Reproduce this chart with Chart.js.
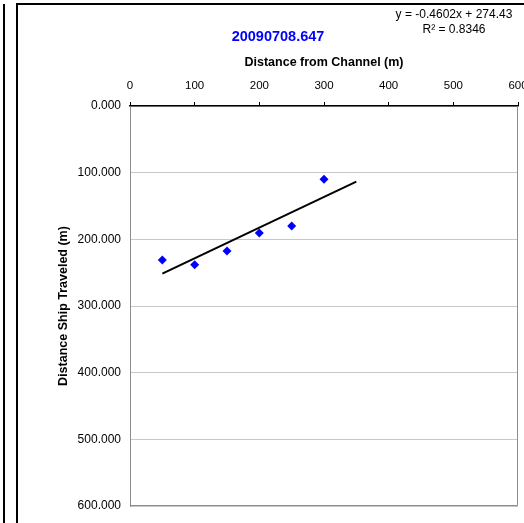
<!DOCTYPE html>
<html>
<head>
<meta charset="utf-8">
<script src="https://cdn.jsdelivr.net/npm/chart.js@4.4.0/dist/chart.umd.min.js"></script>
<style>
html, body { margin:0; padding:0; background:#fff; }
#wrap { position:relative; width:524px; height:523px; overflow:hidden; }
#c { position:absolute; left:0; top:0; }
.edge { position:absolute; background:#000; }
</style>
</head>
<body>
<div id="wrap">
  <canvas id="c" width="524" height="523"></canvas>
  <div class="edge" style="left:3px;top:4px;width:2px;height:530px"></div>
  <div class="edge" style="left:16px;top:3px;width:2px;height:530px"></div>
  <div class="edge" style="left:16px;top:3px;width:520px;height:2px"></div>
</div>
<script>
const chartTitle = '20090708.647';
const xTitle = 'Distance from Channel (m)';
const yTitle = 'Distance Ship Traveled (m)';
const eqLines = ['y = -0.4602x + 274.43', 'R\u00b2 = 0.8346'];

// measured points
const distFromChannel = [50, 100, 150, 200, 250, 300];
const distTraveled = [231, 238, 217.5, 190.5, 180, 110];

// trendline end points (from the equation shown)
const trendX = [50, 350];
const trendY = [251.4, 113.4];

const FONT = "'Liberation Sans', Arial, sans-serif";

const extras = {
  id: 'extras',
  beforeDatasetsDraw(chart) {
    const { ctx, chartArea: a } = chart;
    ctx.save();
    ctx.strokeStyle = '#8c8c8c';
    ctx.lineWidth = 1;
    ctx.beginPath();
    ctx.moveTo(a.right - 0.5, a.top);
    ctx.lineTo(a.right - 0.5, a.bottom - 0.5);
    ctx.lineTo(a.left, a.bottom - 0.5);
    ctx.stroke();
    ctx.restore();
  },
  afterDraw(chart) {
    const ctx = chart.ctx;
    ctx.save();
    ctx.textAlign = 'center';
    ctx.textBaseline = 'middle';
    ctx.fillStyle = '#0000ff';
    ctx.font = 'bold 14.5px ' + FONT;
    ctx.fillText(chartTitle, 278, 37);
    ctx.fillStyle = '#000';
    ctx.font = '12px ' + FONT;
    ctx.fillText(eqLines[0], 454, 15);
    ctx.fillText(eqLines[1], 454, 30);
    ctx.restore();
  }
};

new Chart(document.getElementById('c'), {
  type: 'scatter',
  data: {
    datasets: [
      {
        label: 'Points',
        data: distFromChannel.map((x, i) => ({ x: x, y: distTraveled[i] })),
        pointStyle: 'rectRot',
        pointRadius: 4.5,
        backgroundColor: '#0000ff',
        borderColor: '#0000ff',
        borderWidth: 0
      },
      {
        label: 'Trend',
        data: trendX.map((x, i) => ({ x: x, y: trendY[i] })),
        showLine: true,
        pointRadius: 0,
        borderColor: '#000',
        borderWidth: 2
      }
    ]
  },
  options: {
    responsive: false,
    animation: false,
    devicePixelRatio: 1,
    layout: { padding: { left: 0, top: 0, right: 6, bottom: 17 } },
    plugins: { legend: { display: false }, tooltip: { enabled: false } },
    scales: {
      x: {
        type: 'linear',
        position: 'top',
        min: 0, max: 600,
        ticks: { stepSize: 100, color: '#000', padding: 9, font: { family: FONT, size: 11.5 } },
        grid: { drawOnChartArea: false, drawTicks: true, tickLength: 4, color: '#000', lineWidth: 1 },
        border: { color: '#000', width: 1.5 },
        title: { display: true, text: xTitle, color: '#000', padding: { top: 55.5, bottom: 0 },
                 font: { family: FONT, size: 12.5, weight: 'bold' } },
        afterFit(s) { s.height = 106; s.paddingLeft = 0; s.paddingRight = 0; }
      },
      y: {
        type: 'linear',
        reverse: true,
        min: 0, max: 600,
        ticks: { stepSize: 100, color: '#000', padding: 9, font: { family: FONT, size: 12 },
                 callback: v => v.toFixed(3) },
        grid: { color: '#c8c8c8', drawTicks: false, lineWidth: 1 },
        border: { color: '#8c8c8c', width: 1 },
        title: { display: true, text: yTitle, color: '#000', padding: { top: 56.5, bottom: 0 },
                 font: { family: FONT, size: 12.5, weight: 'bold' } },
        afterFit(s) { s.width = 130; s.paddingTop = 0; s.paddingBottom = 0; }
      }
    }
  },
  plugins: [extras]
});
</script>
</body>
</html>
